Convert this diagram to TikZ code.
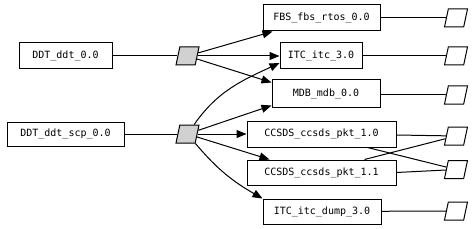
\documentclass[tikz,border=0pt]{standalone}
\usepackage{fontspec}
\setmonofont{DejaVu Sans Mono}
\usetikzlibrary{shapes.geometric,arrows.meta,calc}
\begin{document}
\begin{tikzpicture}[x=1pt,y=1pt,
 box/.style={draw, line width=1pt, inner sep=0pt, font=\ttfamily\fontsize{10}{10}\selectfont, fill=white},
 para/.style={draw, line width=1pt, trapezium, trapezium left angle=76, trapezium right angle=104, trapezium stretches=true, minimum width=23pt, minimum height=18pt, inner sep=1pt},
 gpara/.style={para, fill=black!18},
 wpara/.style={para, fill=white},
 link/.style={line width=1pt},
 arr/.style={line width=1pt, -{Triangle[length=10pt,width=8pt]}},
]
\fill[white] (0,0) rectangle (474,228);
\useasboundingbox (0,0) rectangle (474,228);
% left boxes
\node[box, minimum width=93pt, minimum height=26pt] (ddt) at (65.5,172) {DDT\_ddt\_0.0};
\node[box, minimum width=117pt, minimum height=24pt] (scp) at (65.5,94) {DDT\_ddt\_scp\_0.0};
% gray parallelograms
\node[gpara] (p1) at (187.5,172) {};
\node[gpara] (p2) at (187.5,94) {};
% middle boxes
\node[box, minimum width=117pt, minimum height=26pt] (fbs) at (321.5,210) {FBS\_fbs\_rtos\_0.0};
\node[box, minimum width=82pt, minimum height=26pt] (itc) at (321,172) {ITC\_itc\_3.0};
\node[box, minimum width=108pt, minimum height=27pt] (mdb) at (326,134.5) {MDB\_mdb\_0.0};
\node[box, minimum width=149pt, minimum height=26pt] (c10) at (321.5,94) {CCSDS\_ccsds\_pkt\_1.0};
\node[box, minimum width=149pt, minimum height=25pt] (c11) at (321.5,55.5) {CCSDS\_ccsds\_pkt\_1.1};
\node[box, minimum width=118pt, minimum height=25pt] (dump) at (322,16.5) {ITC\_itc\_dump\_3.0};
% right parallelograms
\node[wpara] (r1) at (456,210) {};
\node[wpara] (r2) at (456,172) {};
\node[wpara] (r3) at (456,133) {};
\node[wpara] (r4) at (456,92) {};
\node[wpara] (r5) at (456,58.5) {};
\node[wpara] (r6) at (456,17) {};
% left links
\draw[link] (ddt) -- (p1);
\draw[link] (scp) -- (p2);
% arrows from p1
\draw[arr] (p1) -- ([xshift=10pt]fbs.south west);
\draw[arr] (p1) -- (itc.west);
\draw[arr] (p1) -- ([yshift=-3pt]mdb.north west);
% arrows from p2
\draw[arr] (p2) to[out=55,in=205] ([yshift=-7pt]itc.west);
\draw[arr] (p2) -- ([yshift=2pt]mdb.south west);
\draw[arr] (p2) -- (c10.west);
\draw[arr] (p2) -- ([xshift=23pt]c11.north west);
\draw[arr] (p2) to[out=-50,in=150] (dump.north west);
% right links
\draw[link] (fbs) -- (r1);
\draw[link] (itc) -- (r2);
\draw[link] (mdb.east |- r3) -- (r3);
\draw[link] ([yshift=-1pt]c10.east) -- (r4);
\draw[link] ([xshift=46pt]c10.south) -- (r5);
\draw[link] ([xshift=43pt]c11.north) -- (r4);
\draw[link] (c11.east) -- (r5);
\draw[link] (dump) -- (r6);
\end{tikzpicture}
\end{document}
